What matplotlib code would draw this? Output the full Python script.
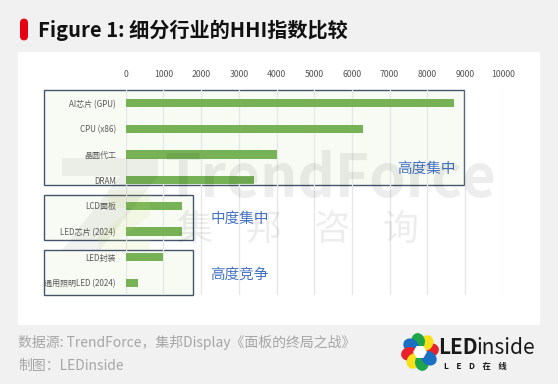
import numpy as np
import matplotlib
matplotlib.use("Agg")
import matplotlib.pyplot as plt
from matplotlib.patches import Rectangle, FancyBboxPatch, Ellipse, Polygon

plt.rcParams['font.family'] = ['Noto Sans CJK SC', 'DejaVu Sans']

# data
categories = ['AI芯片 (GPU)', 'CPU (x86)', '晶圆代工', 'DRAM',
              'LCD面板', 'LED芯片 (2024)', 'LED封装', '通用照明LED (2024)']
hhi = [8700, 6300, 4000, 3400, 1500, 1480, 1000, 330]
groups = ['高度集中', '中度集中', '高度竞争']
group_rows = [(0, 3), (4, 5), (6, 7)]
ticks = list(range(0, 10001, 1000))

fig = plt.figure(figsize=(5.58, 3.84), dpi=100)
fig.patch.set_facecolor('#f1f1f1')

# white panel
fig.patches.append(Rectangle((18/558, 1-325/384), (540-18)/558, (325-52)/384,
                             transform=fig.transFigure, facecolor='white',
                             edgecolor='none', zorder=-10))
# red marker + title
fig.patches.append(FancyBboxPatch((20/558, 1-41/384), 8/558, 23/384,
                                  boxstyle='round,pad=0,rounding_size=0.012',
                                  transform=fig.transFigure, facecolor='#e60012',
                                  edgecolor='none', zorder=-5))
fig.text(38/558, 1-30/384, 'Figure 1: 细分行业的HHI指数比较', fontsize=14.5,
         fontweight='bold', va='center', ha='left', color='#111111')

ax = fig.add_axes([0.2253, 0.2305, 0.6756, 0.5339])
ax.set_facecolor('none')
ax.set_axisbelow(False)
y = np.arange(len(categories))
ax.barh(y, hhi, height=0.32, color='#77b356', zorder=3)
ax.set_xlim(0, 10000)
ax.set_ylim(len(categories) - 0.5, -0.5)
ax.set_xticks(ticks)
ax.xaxis.tick_top()
ax.tick_params(axis='x', length=0, pad=8, labelsize=6.3, labelcolor='#555555')
ax.set_yticks(y)
ax.set_yticklabels(categories)
ax.tick_params(axis='y', length=0, pad=7, labelsize=5.8, labelcolor='#595959')
ax.grid(axis='x', color='#e6e6e6', linewidth=0.9)
for s in ax.spines.values():
    s.set_visible(False)

# group boxes
box_x = [(-2160, 8980), (-2160, 1790), (-2160, 1790)]
box_pad = [(0.5, 0.18), (0.41, 0.35), (0.27, 0.5)]
label_pos = [(8750, 2.55, 'right'), (2250, 4.5, 'left'), (2250, 6.7, 'left')]
for (r0, r1), (x0, x1), (pt, pb), (lx, ly, lha), g in zip(
        group_rows, box_x, box_pad, label_pos, groups):
    top = r0 - pt
    bot = r1 + pb
    ax.add_patch(Rectangle((x0, top), x1 - x0, bot - top, facecolor='#f7fbf4',
                           edgecolor='#44546a', linewidth=1.0, clip_on=False,
                           zorder=1))
    ax.text(lx, ly, g, fontsize=10.5, color='#4472c4', ha=lha, va='center',
            zorder=5)

# watermark
fig.patches.append(Polygon([(62/558, 1-158/384), (158/558, 1-158/384),
                            (158/558, 1-176/384), (100/558, 1-250/384),
                            (62/558, 1-250/384), (120/558, 1-176/384),
                            (62/558, 1-176/384)], closed=True,
                           transform=fig.transFigure, facecolor='#000000',
                           alpha=0.05, edgecolor='none', zorder=10))
fig.patches.append(Polygon([(108/558, 1-190/384), (150/558, 1-190/384),
                            (150/558, 1-215/384), (118/558, 1-240/384),
                            (150/558, 1-240/384), (150/558, 1-250/384),
                            (98/558, 1-250/384), (98/558, 1-235/384),
                            (132/558, 1-208/384), (108/558, 1-208/384)],
                           closed=True, transform=fig.transFigure,
                           facecolor='#c8dc6a', alpha=0.12, edgecolor='none',
                           zorder=10))
fig.text(330/558, 1-180/384, 'TrendForce', fontsize=42, fontweight='bold',
         color='#000000', alpha=0.07, ha='center', va='center', zorder=10)
fig.text(298/558, 1-230/384, '集    邦    咨    询', fontsize=26,
         color='#000000', alpha=0.07, ha='center', va='center', zorder=10)

# footer
fig.text(18/558, 1-343/384, '数据源: TrendForce，集邦Display《面板的终局之战》',
         fontsize=10, color='#a6a6a6', ha='left', va='center')
fig.text(18/558, 1-366/384, '制图：LEDinside', fontsize=10, color='#a6a6a6',
         ha='left', va='center')

# logo
lax = fig.add_axes([398/558, 1-372/384, 44/558, 40/384])
lax.set_xlim(-1.1, 1.1)
lax.set_ylim(-1.1, 1.1)
lax.set_aspect('equal')
lax.axis('off')
petal_colors = ['#e8212a', '#f7e11a', '#1fa64a', '#1b6fc2',
                '#e8212a', '#f7e11a', '#1fa64a', '#1b6fc2']
for k, c in enumerate(petal_colors):
    a = np.deg2rad(k * 45 + 10)
    lax.add_patch(Ellipse((0.6 * np.cos(a), 0.6 * np.sin(a)), 0.9, 0.75,
                          angle=np.rad2deg(a), facecolor=c, edgecolor='none'))
hexa = [(0.38 * np.cos(np.deg2rad(t)), 0.38 * np.sin(np.deg2rad(t)))
        for t in range(0, 360, 60)]
lax.add_patch(Polygon(hexa, closed=True, facecolor='white', edgecolor='none'))

fig.text(438/558, 1-348/384, 'LED', fontsize=15, fontweight='bold',
         color='#1a1a1a', ha='left', va='center')
fig.text(476/558, 1-348/384, 'inside', fontsize=15, color='#1a1a1a',
         ha='left', va='center')
fig.text(444/558, 1-367/384, 'L    E    D    在    线', fontsize=6,
         color='#1a1a1a', ha='left', va='center', fontweight='bold')

fig.savefig('out.png', dpi=100, facecolor=fig.get_facecolor())
